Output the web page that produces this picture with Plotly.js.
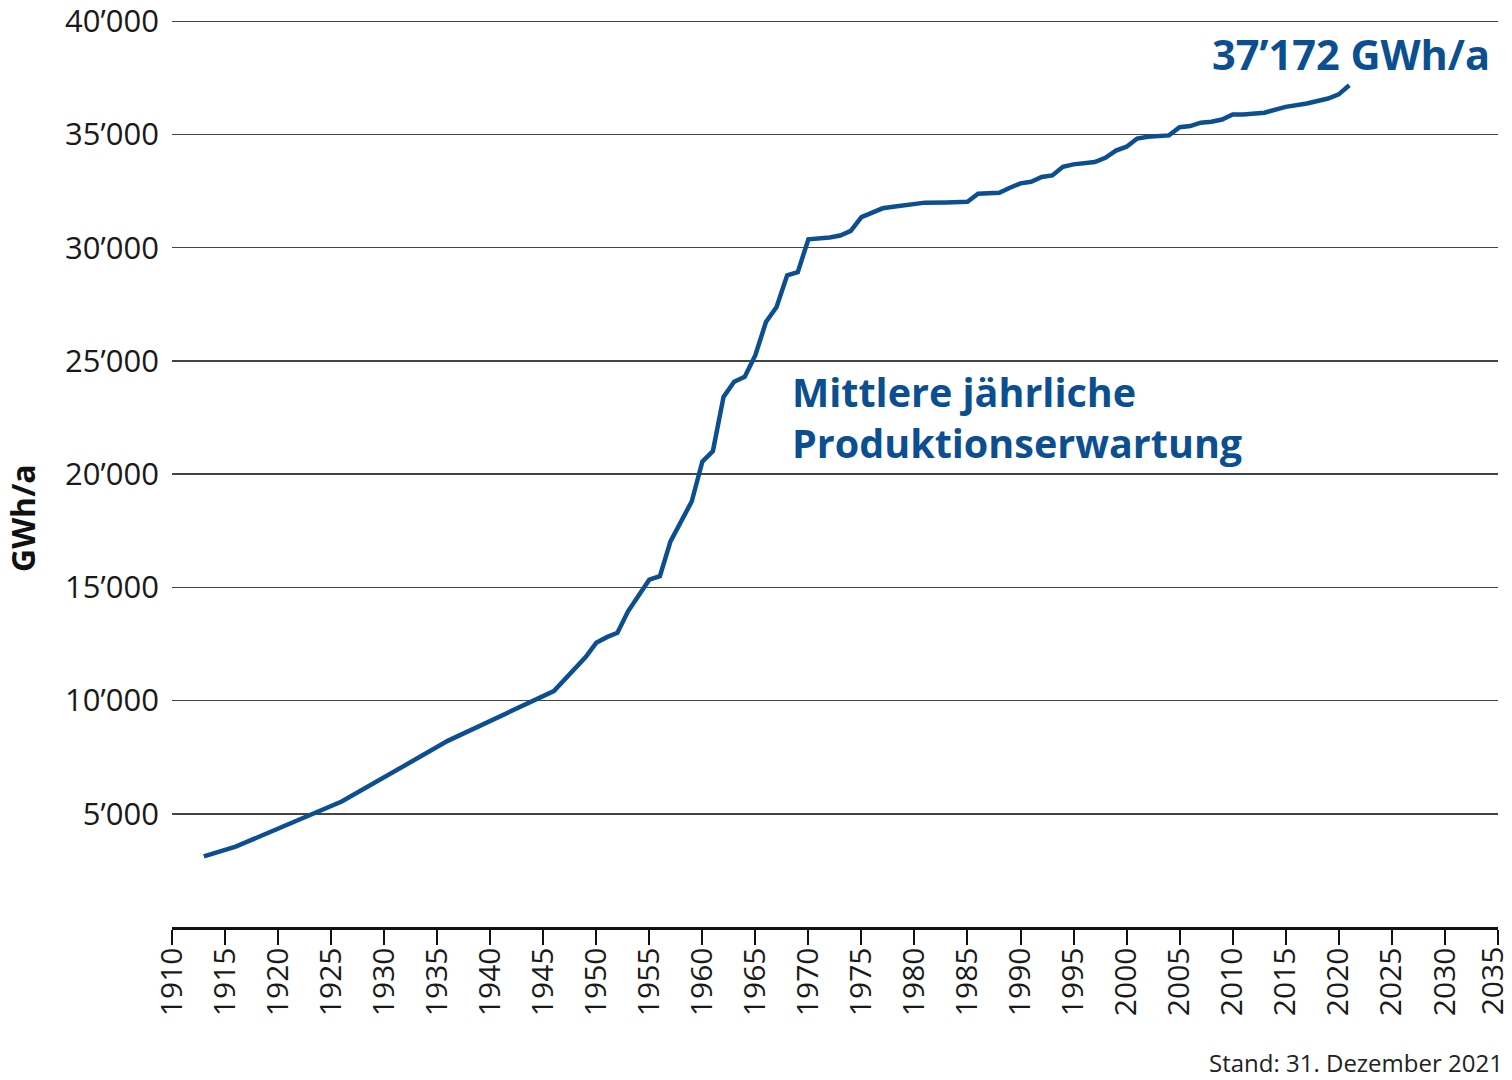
<!DOCTYPE html>
<html>
<head>
<meta charset="utf-8">
<script src="https://cdn.plot.ly/plotly-3.0.1.min.js"></script>
<style>
  html, body { margin: 0; padding: 0; background: #fff; }
  #chart { width: 1512px; height: 1080px; }
</style>
</head>
<body>
<div id="chart"></div>
<script>
// Mittlere jährliche Produktionserwartung (GWh/a)
var years = [1913, 1916, 1926, 1936, 1946, 1949, 1950, 1951, 1952, 1953,
  1955, 1956, 1957, 1958, 1959, 1960, 1961, 1962, 1963, 1964,
  1965, 1966, 1967, 1968, 1969, 1970, 1972, 1973, 1974, 1975,
  1977, 1978, 1979, 1981, 1983, 1985, 1986, 1988, 1989, 1990,
  1991, 1992, 1993, 1994, 1995, 1997, 1998, 1999, 2000, 2001,
  2002, 2004, 2005, 2006, 2007, 2008, 2009, 2010, 2011, 2013,
  2015, 2017, 2019, 2020, 2021];
var production = [3120, 3550, 5540, 8220, 10420, 11920, 12550, 12800, 12990, 13940,
  15340, 15490, 17030, 17910, 18790, 20550, 21020, 23410, 24080, 24300,
  25250, 26720, 27380, 28780, 28920, 30370, 30450, 30540, 30740, 31350,
  31740, 31810, 31870, 31990, 32000, 32030, 32380, 32430, 32650, 32840,
  32910, 33120, 33190, 33570, 33680, 33780, 33970, 34290, 34460, 34820,
  34900, 34960, 35320, 35370, 35520, 35560, 35660, 35880, 35880, 35960,
  36220, 36370, 36590, 36770, 37172];

var yTicks = [5000, 10000, 15000, 20000, 25000, 30000, 35000, 40000];
var yTickText = ['5’000', '10’000', '15’000', '20’000', '25’000', '30’000', '35’000', '40’000'];
var xTicks = [1910, 1915, 1920, 1925, 1930, 1935, 1940, 1945, 1950, 1955, 1960, 1965,
  1970, 1975, 1980, 1985, 1990, 1995, 2000, 2005, 2010, 2015, 2020, 2025, 2030, 2035];

// the last year label sits at the right edge; it is drawn as an annotation
// nudged a little inwards so it is not clipped
var lastYear = xTicks[xTicks.length - 1];
var xTickText = xTicks.map(function (v) { return v === lastYear ? '' : String(v); });

var blue = '#0b4f91';
var font = '"Open Sans", "Noto Sans", sans-serif';

var trace = {
  x: years,
  y: production,
  type: 'scatter',
  mode: 'lines',
  line: {color: blue, width: 4.5},
  hoverinfo: 'skip'
};

var layout = {
  width: 1512,
  height: 1080,
  margin: {l: 172, r: 14, t: 19, b: 153},
  paper_bgcolor: '#fff',
  plot_bgcolor: '#fff',
  showlegend: false,
  font: {family: font, color: '#1a1a1a'},
  xaxis: {
    range: [1910, 2035.02],
    tickmode: 'array',
    tickvals: xTicks,
    ticktext: xTickText,
    tickangle: -90,
    ticks: 'outside',
    ticklen: 15,
    tickwidth: 2,
    tickcolor: '#111',
    showline: true,
    linecolor: '#111',
    linewidth: 2.5,
    showgrid: false,
    zeroline: false,
    ticklabelstandoff: -9,
    ticklabeloverflow: 'allow',
    tickfont: {size: 30, color: '#1a1a1a'}
  },
  yaxis: {
    range: [0, 40100],
    tickmode: 'array',
    tickvals: yTicks,
    ticktext: yTickText,
    showgrid: true,
    gridcolor: '#444',
    gridwidth: 1.5,
    zeroline: false,
    showline: false,
    ticks: '',
    ticklabelstandoff: 12,
    ticklabeloverflow: 'allow',
    tickfont: {size: 31, color: '#1a1a1a'}
  },
  annotations: [
    {
      text: String(lastYear),
      xref: 'x', yref: 'paper',
      x: lastYear, y: 0,
      xshift: -6, yshift: -17,
      xanchor: 'center', yanchor: 'top',
      textangle: -90,
      showarrow: false,
      font: {size: 30, color: '#1a1a1a', family: font}
    },
    {
      text: '<b>GWh/a</b>',
      xref: 'paper', yref: 'paper',
      x: (22 - 172) / 1326, y: (927 - 518) / 908,
      xanchor: 'center', yanchor: 'middle',
      textangle: -90,
      showarrow: false,
      font: {size: 32, color: '#111', family: font}
    },
    {
      text: '<b>Mittlere jährliche<br>Produktionserwartung</b>',
      xref: 'x', yref: 'y',
      x: 1968.3, y: 22500,
      xanchor: 'left', yanchor: 'middle',
      align: 'left',
      showarrow: false,
      font: {size: 39.5, color: blue, family: font}
    },
    {
      text: '<b>37’172 GWh/a</b>',
      xref: 'x', yref: 'y',
      x: 2034.5, y: 38550,
      xanchor: 'right', yanchor: 'middle',
      showarrow: false,
      font: {size: 41.5, color: blue, family: font}
    },
    {
      text: 'Stand: 31. Dezember 2021',
      xref: 'paper', yref: 'paper',
      x: 1, xshift: 7, y: (927 - 1062) / 908,
      xanchor: 'right', yanchor: 'middle',
      showarrow: false,
      font: {size: 24, color: '#222', family: font}
    }
  ]
};

Plotly.newPlot('chart', [trace], layout, {displayModeBar: false, staticPlot: true});
</script>
</body>
</html>
